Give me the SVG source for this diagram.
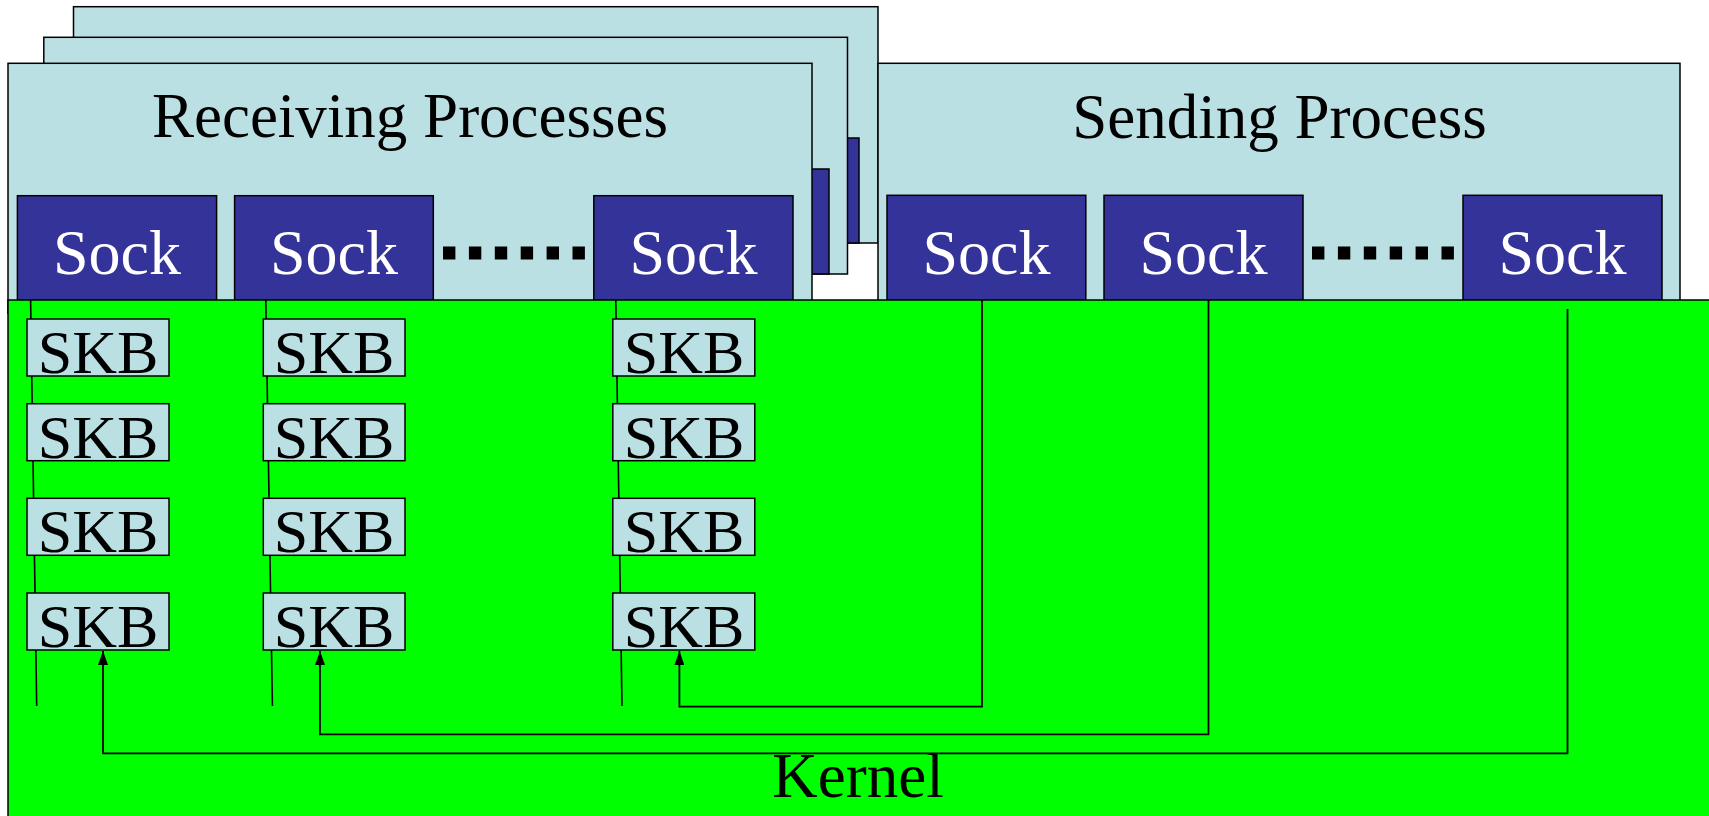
<svg xmlns="http://www.w3.org/2000/svg" width="1709" height="816" viewBox="0 0 1709 816">
<style>
.frame{fill:#BBE0E3;stroke:#000;stroke-width:1.5}
.sock{fill:#333399;stroke:#000;stroke-width:1.5}
.skb{fill:#BBE0E3;stroke:#000;stroke-width:1.5}
.kernel{fill:#00FF00;stroke:#000;stroke-width:1.5}
.t{font-family:"Liberation Serif","Times New Roman",serif;text-anchor:middle}
.title{font-size:63px;fill:#000}
.socktxt{font-size:64px;fill:#fff}
.skbtxt{font-size:62px;fill:#000}
.dots{stroke:#000;stroke-width:13;stroke-dasharray:12.4 13.5}
.ln{fill:none;stroke:#000;stroke-width:1.6}
.arr{fill:none;stroke:#000;stroke-width:1.8;marker-end:url(#ah)}
</style>
<defs>
<marker id="ah" viewBox="0 0 14 10" refX="14" refY="5" markerWidth="14" markerHeight="10" markerUnits="userSpaceOnUse" orient="auto">
<path d="M0,0 L14,5 L0,10 Z" fill="#000"/>
</marker>
</defs>
<rect width="1709" height="816" fill="#fff"/>
<g id="recv-back2">
<rect class="frame" x="73.5" y="6.7" width="804.5" height="236.3"/>
<rect class="sock" x="659" y="138" width="200" height="105"/>
</g>
<g id="recv-back1">
<rect class="frame" x="43.8" y="37.3" width="803.7" height="236.7"/>
<rect class="sock" x="629" y="169" width="200" height="105"/>
</g>
<g id="receiving">
<rect class="frame" x="8" y="63.3" width="804" height="250"/>
<text class="t title" x="410" y="137">Receiving Processes</text>
<rect class="sock" x="17.4" y="195.7" width="199.2" height="110"/>
<text class="t socktxt" x="117" y="274">Sock</text>
<rect class="sock" x="234.6" y="195.7" width="198.7" height="110"/>
<text class="t socktxt" x="334" y="274">Sock</text>
<line class="dots" x1="443" y1="253" x2="585" y2="253"/>
<rect class="sock" x="593.8" y="195.7" width="199.2" height="110"/>
<text class="t socktxt" x="693.4" y="274">Sock</text>
</g>
<g id="sending">
<rect class="frame" x="878" y="63.3" width="802" height="250"/>
<text class="t title" x="1279.5" y="138">Sending Process</text>
<rect class="sock" x="887" y="195.3" width="198.8" height="110"/>
<text class="t socktxt" x="986.4" y="274">Sock</text>
<rect class="sock" x="1104" y="195.3" width="199" height="110"/>
<text class="t socktxt" x="1203.5" y="274">Sock</text>
<line class="dots" x1="1312" y1="253" x2="1454" y2="253"/>
<rect class="sock" x="1463" y="195.3" width="199" height="110"/>
<text class="t socktxt" x="1562.5" y="274">Sock</text>
</g>
<g id="kernel">
<rect class="kernel" x="8" y="300" width="1720" height="530"/>
<text class="t title" x="858" y="797">Kernel</text>
</g>
<g id="connectors">
<line class="ln" x1="30.6" y1="300" x2="36.7" y2="706"/>
<line class="ln" x1="265.8" y1="300" x2="272.4" y2="706"/>
<line class="ln" x1="615.8" y1="300" x2="622" y2="706"/>
<polyline class="arr" points="982,300 982,706.7 679.4,706.7 679.4,651"/>
<polyline class="arr" points="1208.5,300 1208.5,734.3 320,734.3 320,651"/>
<polyline class="arr" points="1567.5,309 1567.5,753.3 103,753.3 103,651"/>
</g>
<g id="skb-col1">
<rect class="skb" x="27" y="319" width="142" height="57"/><text class="t skbtxt" x="98" y="373">SKB</text>
<rect class="skb" x="27" y="403.7" width="142" height="57"/><text class="t skbtxt" x="98" y="457.5">SKB</text>
<rect class="skb" x="27" y="498.3" width="142" height="57"/><text class="t skbtxt" x="98" y="552">SKB</text>
<rect class="skb" x="27" y="593" width="142" height="57"/><text class="t skbtxt" x="98" y="646.5">SKB</text>
</g>
<g id="skb-col2">
<rect class="skb" x="263.3" y="319" width="141.7" height="57"/><text class="t skbtxt" x="334" y="373">SKB</text>
<rect class="skb" x="263.3" y="403.7" width="141.7" height="57"/><text class="t skbtxt" x="334" y="457.5">SKB</text>
<rect class="skb" x="263.3" y="498.3" width="141.7" height="57"/><text class="t skbtxt" x="334" y="552">SKB</text>
<rect class="skb" x="263.3" y="593" width="141.7" height="57"/><text class="t skbtxt" x="334" y="646.5">SKB</text>
</g>
<g id="skb-col3">
<rect class="skb" x="612.8" y="319" width="142" height="57"/><text class="t skbtxt" x="684" y="373">SKB</text>
<rect class="skb" x="612.8" y="403.7" width="142" height="57"/><text class="t skbtxt" x="684" y="457.5">SKB</text>
<rect class="skb" x="612.8" y="498.3" width="142" height="57"/><text class="t skbtxt" x="684" y="552">SKB</text>
<rect class="skb" x="612.8" y="593" width="142" height="57"/><text class="t skbtxt" x="684" y="646.5">SKB</text>
</g>
</svg>
